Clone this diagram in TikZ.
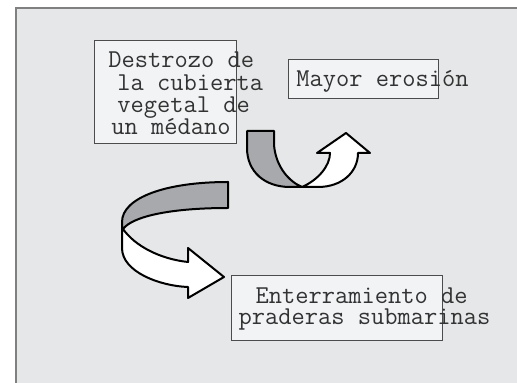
\documentclass[tikz,border=0pt]{standalone}
\usepackage{fontspec}
\usetikzlibrary{shapes,arrows}
\definecolor{panelgray}{HTML}{E6E7E8}
\definecolor{boxfill}{HTML}{F2F3F5}
\definecolor{ribbongray}{HTML}{A7A9AC}
\definecolor{inkgray}{HTML}{333333}
\tikzstyle{box} = [rectangle, draw=black!70, fill=boxfill, line width=0.5pt, inner sep=0pt]
\tikzstyle{txt} = [text=inkgray, font=\ttfamily\fontsize{12.86}{11.1}\selectfont, align=left, inner sep=0pt]
\tikzstyle{back} = [draw, line width=1pt, fill=ribbongray, line join=round]
\tikzstyle{front} = [draw, line width=1pt, fill=white, line join=round]

\begin{document}
\begin{tikzpicture}[x=0.5pt, y=-0.5pt]
	\useasboundingbox (0,0) rectangle (517,383);
	\fill [panelgray] (16,8) rectangle (517,383);
	\draw [black!50, line width=1pt] (16,383) -- (16,8) -- (517,8);

	\node [box, minimum width=71pt, minimum height=51.5pt] (destrozo) at (165,92.5) {};
	\node [box, right of=destrozo, node distance=99pt, yshift=6.5pt, minimum width=75pt, minimum height=19.5pt] (erosion) {};
	\node [box, below of=erosion, node distance=114.5pt, xshift=-13.25pt, minimum width=105.5pt, minimum height=32.5pt] (enterramiento) {};

	\node [txt, xshift=10.4pt, yshift=-0.5pt] (destrozo-text) at (destrozo) {Destrozo de\\\hspace*{4.5pt}la cubierta\\\hspace*{4.5pt}vegetal de\\\hspace*{1.5pt}un médano};
	\node [txt, xshift=9.75pt, yshift=-0.85pt] (erosion-text) at (erosion) {Mayor erosión};
	\node [txt, xshift=14pt, yshift=-0.15pt, font=\ttfamily\fontsize{12.86}{10.4}\selectfont] (enterramiento-text) at (enterramiento) {\hspace*{8.5pt}Enterramiento de\\praderas submarinas};

	\path [back] (247,131) -- (274,131) -- (274,145) .. controls (276,168) and (290,182) .. (302,187) -- (290,187) .. controls (265,187) and (247,172) .. (247,148) -- cycle;
	\path [front] (302,187) -- (318,187) .. controls (342,187) and (358,172) .. (358,153) -- (370,153) -- (346,133) -- (317,153) -- (330,153) .. controls (330,166) and (318,180) .. (302,187) -- cycle;

	\path [back] (228,182) -- (228,208) .. controls (172,208) and (133,216) .. (123,229) -- (122,229) -- (122,222) .. controls (122,198) and (165,182) .. (228,182) -- cycle;
	\path [front] (122,229) -- (122,248) .. controls (122,272) and (160,286) .. (188,287) -- (188,298) -- (224,277) -- (188,248) -- (188,262) .. controls (160,259) and (135,246) .. (123,229) -- cycle;
\end{tikzpicture}
\end{document}
